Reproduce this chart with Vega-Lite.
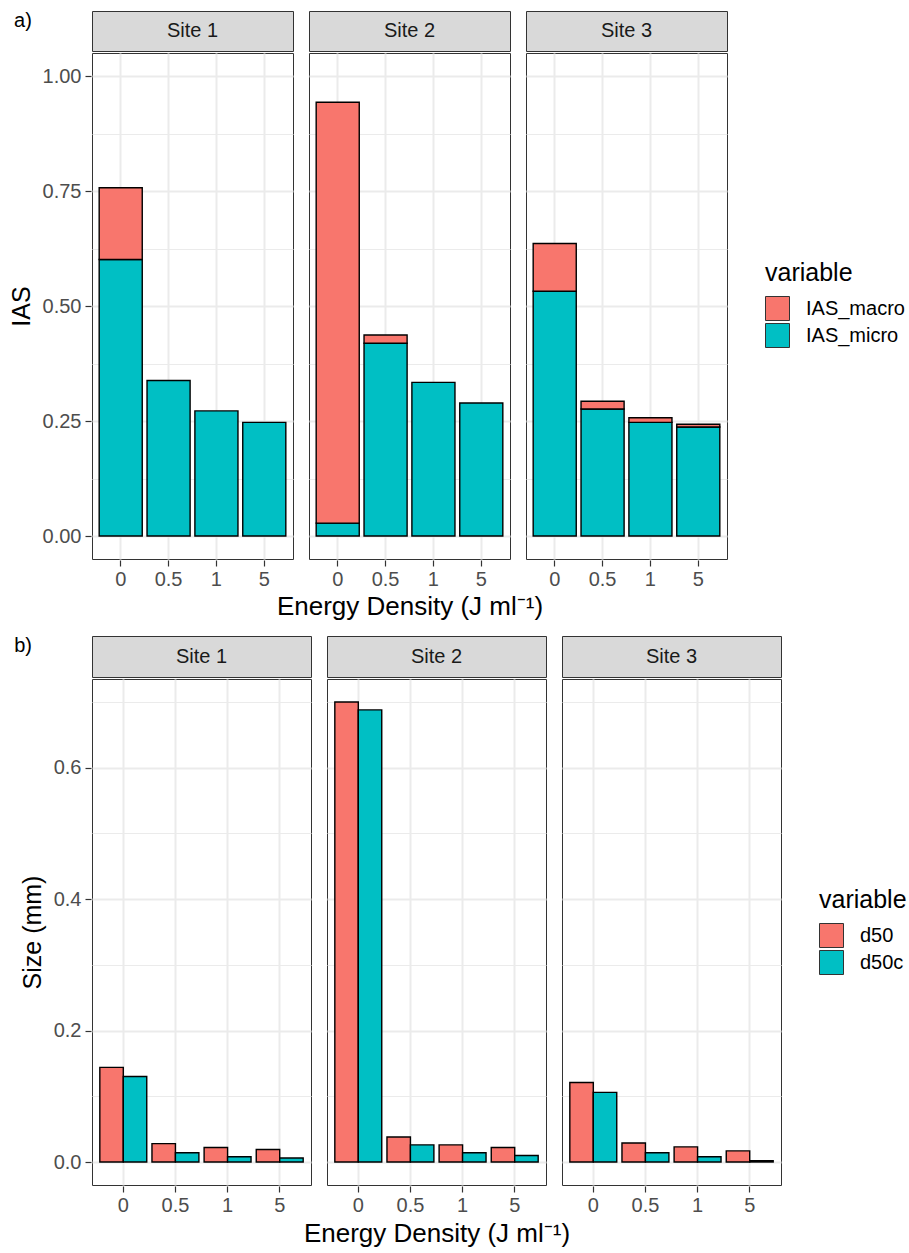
{
  "$schema": "https://vega.github.io/schema/vega-lite/v6.json",
  "background": "white",
  "padding": {"left": 9, "top": 10, "right": 0, "bottom": 0},
  "config": {
    "font": "Liberation Sans",
    "view": {"stroke": "#333333", "strokeWidth": 1},
    "axis": {
      "domain": false, "gridColor": "#EBEBEB", "tickColor": "#333333", "tickSize": 6, "tickWidth": 1.2,
      "labelColor": "#4D4D4D", "labelFontSize": 20, "labelPadding": 4,
      "titleColor": "#000000", "titleFontSize": 25, "titleFontWeight": "normal"
    },
    "legend": {
      "titleFontSize": 25, "titleFontWeight": "normal", "titleColor": "#000000",
      "labelFontSize": 20, "labelColor": "#000000", "symbolType": "square", "symbolSize": 576,
      "symbolStrokeColor": "#333333", "symbolStrokeWidth": 1, "labelOffset": 16, "rowPadding": -3,
      "titlePadding": 10, "orient": "none"
    },
    "header": {"titleFontSize": 26, "titleFontWeight": "normal", "titleColor": "#000000", "titleFont": "Liberation Sans"}
  },
  "datasets": {
    "ias": [
      {"site": "Site 1", "energy": "0", "variable": "IAS_micro", "value": 0.601},
      {"site": "Site 1", "energy": "0", "variable": "IAS_macro", "value": 0.156},
      {"site": "Site 1", "energy": "0.5", "variable": "IAS_micro", "value": 0.338},
      {"site": "Site 1", "energy": "1", "variable": "IAS_micro", "value": 0.272},
      {"site": "Site 1", "energy": "5", "variable": "IAS_micro", "value": 0.247},
      {"site": "Site 2", "energy": "0", "variable": "IAS_micro", "value": 0.028},
      {"site": "Site 2", "energy": "0", "variable": "IAS_macro", "value": 0.915},
      {"site": "Site 2", "energy": "0.5", "variable": "IAS_micro", "value": 0.419},
      {"site": "Site 2", "energy": "0.5", "variable": "IAS_macro", "value": 0.018},
      {"site": "Site 2", "energy": "1", "variable": "IAS_micro", "value": 0.334},
      {"site": "Site 2", "energy": "5", "variable": "IAS_micro", "value": 0.289},
      {"site": "Site 3", "energy": "0", "variable": "IAS_micro", "value": 0.532},
      {"site": "Site 3", "energy": "0", "variable": "IAS_macro", "value": 0.104},
      {"site": "Site 3", "energy": "0.5", "variable": "IAS_micro", "value": 0.276},
      {"site": "Site 3", "energy": "0.5", "variable": "IAS_macro", "value": 0.017},
      {"site": "Site 3", "energy": "1", "variable": "IAS_micro", "value": 0.247},
      {"site": "Site 3", "energy": "1", "variable": "IAS_macro", "value": 0.010},
      {"site": "Site 3", "energy": "5", "variable": "IAS_micro", "value": 0.237},
      {"site": "Site 3", "energy": "5", "variable": "IAS_macro", "value": 0.006}
    ],
    "size": [
      {"site": "Site 1", "energy": "0", "variable": "d50", "value": 0.144},
      {"site": "Site 1", "energy": "0", "variable": "d50c", "value": 0.130},
      {"site": "Site 1", "energy": "0.5", "variable": "d50", "value": 0.028},
      {"site": "Site 1", "energy": "0.5", "variable": "d50c", "value": 0.014},
      {"site": "Site 1", "energy": "1", "variable": "d50", "value": 0.022},
      {"site": "Site 1", "energy": "1", "variable": "d50c", "value": 0.008},
      {"site": "Site 1", "energy": "5", "variable": "d50", "value": 0.019},
      {"site": "Site 1", "energy": "5", "variable": "d50c", "value": 0.006},
      {"site": "Site 2", "energy": "0", "variable": "d50", "value": 0.700},
      {"site": "Site 2", "energy": "0", "variable": "d50c", "value": 0.688},
      {"site": "Site 2", "energy": "0.5", "variable": "d50", "value": 0.038},
      {"site": "Site 2", "energy": "0.5", "variable": "d50c", "value": 0.026},
      {"site": "Site 2", "energy": "1", "variable": "d50", "value": 0.026},
      {"site": "Site 2", "energy": "1", "variable": "d50c", "value": 0.014},
      {"site": "Site 2", "energy": "5", "variable": "d50", "value": 0.022},
      {"site": "Site 2", "energy": "5", "variable": "d50c", "value": 0.010},
      {"site": "Site 3", "energy": "0", "variable": "d50", "value": 0.121},
      {"site": "Site 3", "energy": "0", "variable": "d50c", "value": 0.106},
      {"site": "Site 3", "energy": "0.5", "variable": "d50", "value": 0.029},
      {"site": "Site 3", "energy": "0.5", "variable": "d50c", "value": 0.014},
      {"site": "Site 3", "energy": "1", "variable": "d50", "value": 0.023},
      {"site": "Site 3", "energy": "1", "variable": "d50c", "value": 0.008},
      {"site": "Site 3", "energy": "5", "variable": "d50", "value": 0.017},
      {"site": "Site 3", "energy": "5", "variable": "d50c", "value": 0.002}
    ]
  },
  "spacing": 15,
  "resolve": {"scale": {"color": "independent"}},
  "vconcat": [
    {
      "title": {"text": "a)", "anchor": "start", "frame": "bounds", "fontSize": 20, "fontWeight": "normal", "color": "#000000", "offset": 0, "dy": 20, "dx": 5},
      "spacing": 0,
      "vconcat": [
        {
          "data": {"name": "ias"},
          "transform": [{"aggregate": [{"op": "count", "as": "n"}], "groupby": ["site"]}],
          "facet": {"column": {"field": "site", "type": "nominal", "header": {"labels": false, "title": null}}},
          "spacing": 14,
          "spec": {
            "width": 201, "height": 40,
            "view": {"fill": "#D9D9D9", "stroke": "#333333"},
            "mark": {"type": "text", "fontSize": 20, "color": "#1A1A1A"},
            "encoding": {"text": {"field": "site", "type": "nominal"}}
          }
        },
        {
          "data": {"name": "ias"},
          "facet": {"column": {"field": "site", "type": "nominal", "header": {"labels": false, "title": "Energy Density (J ml⁻¹)", "titleOrient": "bottom", "titlePadding": -5}}},
          "spacing": 14,
          "spec": {
            "width": 201, "height": 506,
            "mark": {"type": "bar", "stroke": "#000000", "strokeWidth": 1.4},
            "encoding": {
              "x": {
                "field": "energy", "type": "ordinal", "sort": ["0", "0.5", "1", "5"],
                "scale": {"paddingInner": 0.1, "paddingOuter": 0.15},
                "axis": {"title": null, "labelAngle": 0, "grid": true, "gridWidth": 2, "bandPosition": 0.5, "labelPadding": 3}
              },
              "y": {
                "field": "value", "type": "quantitative", "stack": "zero",
                "scale": {"domain": [-0.05, 1.05], "nice": false, "zero": false},
                "axis": {
                  "title": "IAS",
                  "values": [0, 0.125, 0.25, 0.375, 0.5, 0.625, 0.75, 0.875, 1.0],
                  "labelExpr": "datum.value * 4 == round(datum.value * 4) ? format(datum.value, '.2f') : ''",
                  "gridWidth": {"condition": {"test": "datum.value * 4 != round(datum.value * 4)", "value": 1}, "value": 2},
                  "tickOpacity": {"condition": {"test": "datum.value * 4 != round(datum.value * 4)", "value": 0}, "value": 1},
                  "titlePadding": 8
                }
              },
              "color": {
                "field": "variable", "type": "nominal",
                "scale": {"domain": ["IAS_macro", "IAS_micro"], "range": ["#F8766D", "#00BFC4"]},
                "legend": {"title": "variable", "legendX": 673, "legendY": 250}
              },
              "order": {"field": "variable", "sort": "descending"}
            }
          }
        }
      ]
    },
    {
      "title": {"text": "b)", "anchor": "start", "frame": "bounds", "fontSize": 20, "fontWeight": "normal", "color": "#000000", "offset": 0, "dy": 20, "dx": -6},
      "spacing": 0,
      "vconcat": [
        {
          "data": {"name": "size"},
          "transform": [{"aggregate": [{"op": "count", "as": "n"}], "groupby": ["site"]}],
          "facet": {"column": {"field": "site", "type": "nominal", "header": {"labels": false, "title": null}}},
          "spacing": 14,
          "spec": {
            "width": 219, "height": 41,
            "view": {"fill": "#D9D9D9", "stroke": "#333333"},
            "mark": {"type": "text", "fontSize": 20, "color": "#1A1A1A"},
            "encoding": {"text": {"field": "site", "type": "nominal"}}
          }
        },
        {
          "data": {"name": "size"},
          "facet": {"column": {"field": "site", "type": "nominal", "header": {"labels": false, "title": "Energy Density (J ml⁻¹)", "titleOrient": "bottom", "titlePadding": -4}}},
          "spacing": 14,
          "spec": {
            "width": 219, "height": 506,
            "mark": {"type": "bar", "stroke": "#000000", "strokeWidth": 1.4},
            "encoding": {
              "x": {
                "field": "energy", "type": "ordinal", "sort": ["0", "0.5", "1", "5"],
                "scale": {"paddingInner": 0.1, "paddingOuter": 0.15},
                "axis": {"title": null, "labelAngle": 0, "grid": true, "gridWidth": 2, "bandPosition": 0.5, "labelPadding": 3}
              },
              "xOffset": {"field": "variable", "type": "nominal", "scale": {"paddingInner": 0, "paddingOuter": 0}},
              "y": {
                "field": "value", "type": "quantitative", "stack": null,
                "scale": {"domain": [-0.035, 0.735], "nice": false, "zero": false},
                "axis": {
                  "title": "Size (mm)",
                  "values": [0, 0.1, 0.2, 0.3, 0.4, 0.5, 0.6, 0.7],
                  "labelExpr": "round(datum.value * 10) % 2 == 0 ? format(datum.value, '.1f') : ''",
                  "gridWidth": {"condition": {"test": "round(datum.value * 10) % 2 == 1", "value": 1}, "value": 2},
                  "tickOpacity": {"condition": {"test": "round(datum.value * 10) % 2 == 1", "value": 0}, "value": 1},
                  "titlePadding": 8
                }
              },
              "color": {
                "field": "variable", "type": "nominal",
                "scale": {"domain": ["d50", "d50c"], "range": ["#F8766D", "#00BFC4"]},
                "legend": {"title": "variable", "legendX": 727, "legendY": 252}
              }
            }
          }
        }
      ]
    }
  ]
}
